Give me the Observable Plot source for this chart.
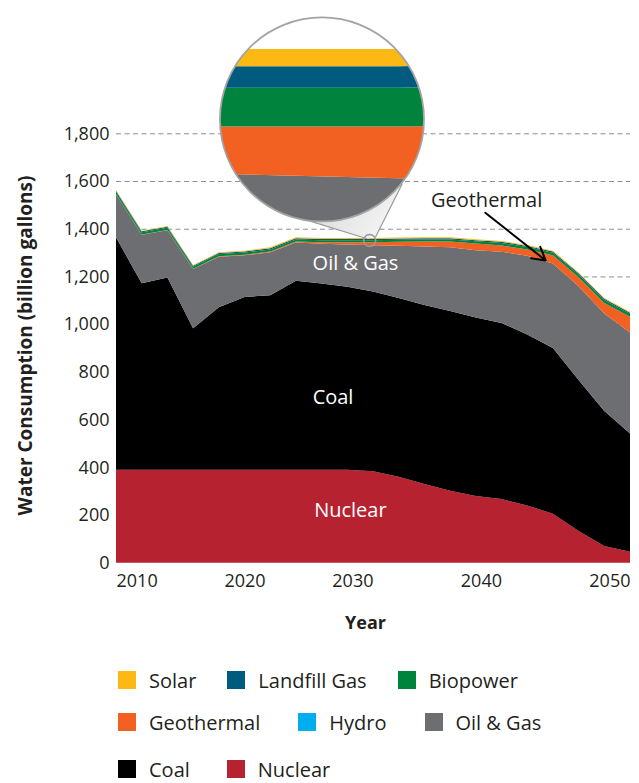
<!DOCTYPE html>
<html>
<head>
<meta charset="utf-8">
<script src="https://cdn.jsdelivr.net/npm/d3@7"></script>
<script src="https://cdn.jsdelivr.net/npm/@observablehq/plot@0.6"></script>
<style>
  html, body { margin: 0; padding: 0; background: #fff; }
  body { position: relative; width: 639px; height: 783px; overflow: hidden;
         font-family: "Open Sans", sans-serif; color: #231f20; }
  #chart { position: absolute; left: 0; top: 0; }
  #legend { position: absolute; left: 118px; top: 0; font-size: 20px; }
  .lrow { position: absolute; left: 0; display: flex; align-items: center; height: 30px; white-space: nowrap; }
  .litem { display: flex; align-items: center; }
  .sw { width: 18px; height: 18px; margin-right: 13px; }
</style>
</head>
<body>
<div id="chart"></div>
<div id="legend"></div>
<script>
// ---------------- data ----------------
const years = [2010, 2012, 2014, 2016, 2018, 2020, 2022, 2024, 2026, 2028, 2030,
               2032, 2034, 2036, 2038, 2040, 2042, 2044, 2046, 2048, 2050];
const nuclear     = [390, 390, 390, 390, 390, 390, 390, 390, 390, 390, 383, 360, 330, 302, 280, 267, 240, 205, 133, 70, 46];
const coal        = [974, 781, 806, 593, 681, 724, 731, 792, 780, 767, 754, 750, 750, 753, 748, 738, 717, 695, 633, 566, 496];
const oilGas      = [181, 204, 198, 248, 212, 175, 180, 160, 167, 177, 194, 219, 246, 267, 282, 298, 330, 354, 393, 409, 423];
const hydro       = [0, 0, 0, 0, 0, 0, 0, 0, 0, 0, 0, 0, 0, 0, 0, 0, 0, 0, 0, 0, 0];
const geothermal  = [1, 1, 1, 1, 2, 2, 3, 4, 6, 9, 12, 16, 20, 24, 28, 27, 26, 35, 38, 44, 66];
const biopower    = [9, 9, 9, 9, 9, 9, 9, 9, 9, 9, 9, 9, 9, 9, 9, 10, 10, 10, 11, 12, 12];
const landfillGas = [4, 4, 4, 4, 4, 5, 5, 5, 5, 5, 5, 5, 5, 5, 5, 5, 5, 5, 5, 5, 5];
const solar       = [3, 3, 3, 3, 3, 3, 4, 4, 4, 4, 4, 4, 4, 4, 4, 4, 4, 4, 4, 4, 4];

const sources = ["Nuclear", "Coal", "Oil & Gas", "Hydro", "Geothermal", "Biopower", "Landfill Gas", "Solar"];
const colors  = ["#b72231", "#000000", "#6d6e71", "#00aeef", "#f26122", "#00843d", "#005b7f", "#fdb913"];
const legendRows = [["Solar", "Landfill Gas", "Biopower"], ["Geothermal", "Hydro", "Oil & Gas"], ["Coal", "Nuclear"]];

const yTicks = [0, 200, 400, 600, 800, 1000, 1200, 1400, 1600, 1800];
const xTicks = [2010, 2020, 2030, 2040, 2050];

const yTitle = "Water Consumption (billion gallons)";
const xTitle = "Year";

// in-chart annotations (data coordinates)
const layerLabels = [
  {label: "Oil & Gas", year: 2028.6, value: 1256},
  {label: "Coal", year: 2026.85, value: 695},
  {label: "Nuclear", year: 2028.2, value: 221}
];
const geoNote = [{label: "Geothermal", year: 2038.8, value: 1520, x1: 2038.7, y1: 1469, x2: 2043.4, y2: 1269}];

// magnifier callout (data coordinates)
const magnifier = {year: 2026.03, value: 1858, radius: 102, focusYear: 2029.7, focusValue: 1353,
                   halfSpan: 0.4, yMin: 1321, yMax: 1368.3};
const calloutShape = [
  {year: 2024.94, value: 1436}, {year: 2029.51, value: 1360}, {year: 2030.16, value: 1367},
  {year: 2032.23, value: 1590}, {year: 2026.03, value: 1858}
];
const calloutEdges = [
  {x1: 2024.94, y1: 1436, x2: 2029.51, y2: 1360},
  {x1: 2032.23, y1: 1590, x2: 2030.16, y2: 1367}
];

// ---------------- table ----------------
const seriesValues = [nuclear, coal, oilGas, hydro, geothermal, biopower, landfillGas, solar];
const rows = sources.flatMap((s, i) => years.map((yr, j) => ({year: yr, source: s, value: seriesValues[i][j]})));

const ink = "#231f20";
const areaOpts = {x: "year", y: "value", z: "source", fill: "source", order: sources};

const main = Plot.plot({
  width: 639, height: 650,
  marginTop: 133.3, marginBottom: 87.3, marginLeft: 116, marginRight: 9,
  style: {fontFamily: "'Open Sans', sans-serif", color: ink, background: "white", overflow: "visible"},
  x: {domain: [2010, 2050], label: null},
  y: {domain: [0, 1800], label: null},
  color: {domain: sources, range: colors},
  marks: [
    Plot.gridY(yTicks.filter(d => d > 0), {stroke: "#8e8e8e", strokeOpacity: 1, strokeWidth: 1, strokeDasharray: "5,3.5"}),
    Plot.areaY(rows, areaOpts),
    Plot.axisY(yTicks, {tickSize: 0, tickPadding: 7, tickFormat: d3.format(","), fontSize: 18, fill: ink, label: null}),
    Plot.axisX([xTicks[0]], {tickSize: 0, tickPadding: 11, textAnchor: "start", tickFormat: d => String(d), fontSize: 18, fill: ink, label: null}),
    Plot.axisX([xTicks[1]], {tickSize: 0, tickPadding: 11, textAnchor: "middle", tickFormat: d => String(d), fontSize: 18, fill: ink, label: null}),
    Plot.axisX(xTicks.slice(2), {tickSize: 0, tickPadding: 11, textAnchor: "end", tickFormat: d => String(d), fontSize: 18, fill: ink, label: null}),
    Plot.text([yTitle], {frameAnchor: "left", textAnchor: "middle", rotate: -90, dx: -91, dy: -3, fontWeight: "bold", fontSize: 19, fill: ink}),
    Plot.text([xTitle], {frameAnchor: "bottom", dy: 66, dx: -8, fontWeight: "bold", fontSize: 18, fill: ink}),
    Plot.text(layerLabels, {x: "year", y: "value", text: "label", fill: "white", fontSize: 20}),
    Plot.text(geoNote, {x: "year", y: "value", text: "label", fill: ink, fontSize: 20}),
    Plot.arrow(geoNote, {x1: "x1", y1: "y1", x2: "x2", y2: "y2", stroke: "black", strokeWidth: 2, headLength: 11}),
    Plot.line(calloutShape, {x: "year", y: "value", fill: "url(#calloutGrad)", stroke: "none"}),
    Plot.link(calloutEdges, {x1: "x1", y1: "y1", x2: "x2", y2: "y2", stroke: "#9a9a9a", strokeWidth: 1.2}),
    Plot.dot([magnifier], {x: "focusYear", y: "focusValue", r: 6, stroke: "#9a9a9a", strokeWidth: 1.5, fill: "none"})
  ]
});
document.getElementById("chart").appendChild(main);

// ---------------- magnifier ----------------
const ns = "http://www.w3.org/2000/svg";
const sx = main.scale("x"), sy = main.scale("y");
const cx = sx.apply(magnifier.year), cy = sy.apply(magnifier.value), r = magnifier.radius;

const defs = document.createElementNS(ns, "defs");
defs.innerHTML = `
  <linearGradient id="calloutGrad" x1="0" y1="0" x2="1" y2="1">
    <stop offset="0" stop-color="#bdbdbd"/>
    <stop offset="0.6" stop-color="#e6e6e6"/>
    <stop offset="1" stop-color="#fafafa"/>
  </linearGradient>
  <clipPath id="magClip"><circle cx="${cx}" cy="${cy}" r="${r}"/></clipPath>`;
main.insertBefore(defs, main.firstChild);

const mini = Plot.plot({
  width: 2 * r, height: 2 * r, margin: 0,
  x: {domain: [magnifier.focusYear - magnifier.halfSpan, magnifier.focusYear + magnifier.halfSpan], axis: null},
  y: {domain: [magnifier.yMin, magnifier.yMax], axis: null},
  color: {domain: sources, range: colors},
  marks: [Plot.areaY(rows, areaOpts)]
});

const clipG = document.createElementNS(ns, "g");
clipG.setAttribute("clip-path", "url(#magClip)");
const bg = document.createElementNS(ns, "circle");
bg.setAttribute("cx", cx); bg.setAttribute("cy", cy); bg.setAttribute("r", r); bg.setAttribute("fill", "white");
clipG.appendChild(bg);
const inner = document.createElementNS(ns, "g");
inner.setAttribute("transform", `translate(${cx - r},${cy - r})`);
for (const child of Array.from(mini.childNodes)) {
  if (child.tagName && child.tagName.toLowerCase() === "style") continue;
  inner.appendChild(child);
}
clipG.appendChild(inner);
main.appendChild(clipG);

const ring = document.createElementNS(ns, "circle");
ring.setAttribute("cx", cx); ring.setAttribute("cy", cy); ring.setAttribute("r", r);
ring.setAttribute("fill", "none"); ring.setAttribute("stroke", "#a3a3a3"); ring.setAttribute("stroke-width", "1.8");
main.appendChild(ring);

// ---------------- legend ----------------
const legend = document.getElementById("legend");
const rowTops = [665, 707, 754];
const rowGaps = [31, 38, 37];
legendRows.forEach((names, i) => {
  const row = document.createElement("div");
  row.className = "lrow";
  row.style.top = rowTops[i] + "px";
  names.forEach(n => {
    const item = document.createElement("div");
    item.className = "litem";
    item.style.marginRight = rowGaps[i] + "px";
    const sw = document.createElement("span");
    sw.className = "sw";
    sw.style.background = colors[sources.indexOf(n)];
    const t = document.createElement("span");
    t.textContent = n;
    item.appendChild(sw); item.appendChild(t);
    row.appendChild(item);
  });
  legend.appendChild(row);
});
</script>
</body>
</html>
